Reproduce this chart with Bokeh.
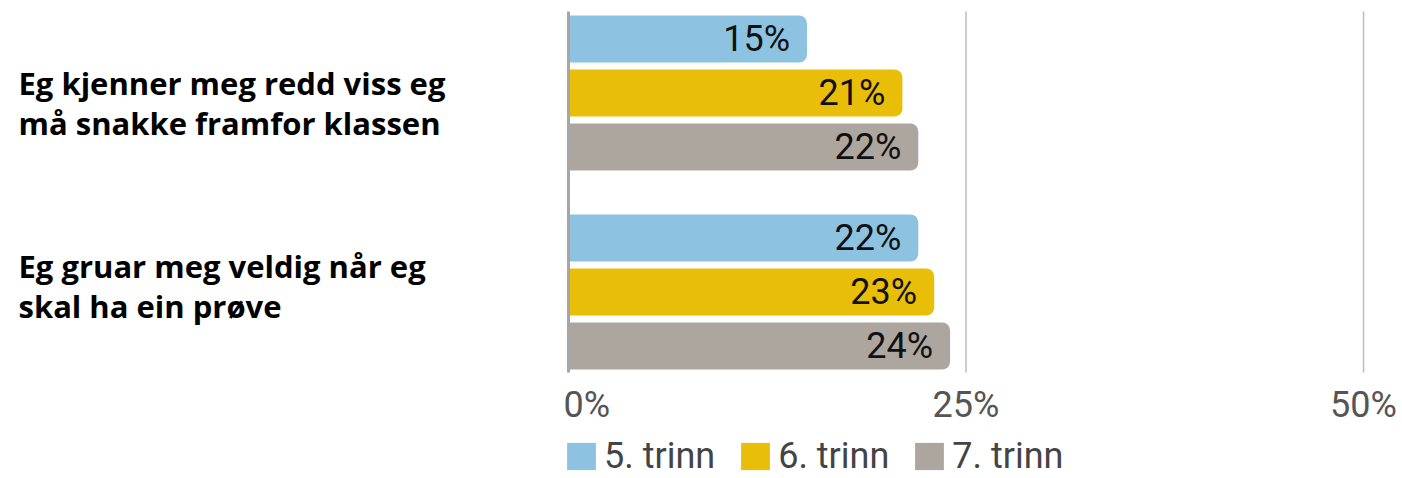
from bokeh.plotting import figure
from bokeh.models import Range1d, ColumnDataSource, Legend, LegendItem
from bokeh.core.properties import value
from bokeh.embed import file_html
from bokeh.resources import INLINE

# ---- data ----
questions = ["Eg kjenner meg redd viss eg\nmå snakke framfor klassen",
             "Eg gruar meg veldig når eg\nskal ha ein prøve"]
series = ["5. trinn", "6. trinn", "7. trinn"]
vals_5 = [15, 22]
vals_6 = [21, 23]
vals_7 = [22, 24]
ticks = [0, 25, 50]
tick_labels = ["0%", "25%", "50%"]

colors = ["#8DC3E0", "#E9BE08", "#ADA69F"]

# ---- layout ----
W, H = 1402, 478
U = 54.0                # px per bar slot
d0 = 38.5 / U           # first bar centre (slots from top)
gstep = 3.685           # group step (slots)
bar_h = 0.87
pxu = 15.9              # px per percent
X0 = -568 / pxu
X1 = X0 + W / pxu

p = figure(width=W, height=H, x_range=Range1d(X0, X1), y_range=Range1d(-H / U, 0),
           toolbar_location=None, output_backend="svg", min_border=0)
p.axis.visible = False
p.grid.visible = False
p.outline_line_color = None
p.background_fill_color = "white"

# grid lines
p.segment(x0=ticks[1:], x1=ticks[1:], y0=[-11 / U] * 2, y1=[-372 / U] * 2,
          line_color="#BDBDBD", line_width=1.5)
p.segment(x0=ticks[:1], x1=ticks[:1], y0=[-11 / U], y1=[-372 / U],
          line_color="#A6A6A6", line_width=3)

renderers = []
for s, (name, vals, col) in enumerate(zip(series, [vals_5, vals_6, vals_7], colors)):
    ys = [-(d0 + g * gstep + s) for g in range(len(questions))]
    src = ColumnDataSource(dict(y=ys, v=vals, t=[f"{v}%" for v in vals]))
    r = p.hbar(y="y", left=1.5 / pxu, right="v", height=bar_h, source=src,
               fill_color=col, line_color=None, border_radius=(0, 8, 8, 0))
    renderers.append(r)
    p.text(x="v", y="y", text="t", source=src, text_align="right",
           text_baseline="middle", x_offset=-17, text_font=value("Roboto"),
           text_font_size="36px", text_color="#111111")

# question labels
qy = [-(d0 + g * gstep + 1) for g in range(len(questions))]
qsrc = ColumnDataSource(dict(x=[X0] * len(questions), y=qy, t=questions, yo=[10, -6]))
p.text(x="x", y="y", text="t", source=qsrc, x_offset=18, y_offset="yo",
       text_align="left", text_baseline="middle", text_font=value("Open Sans"),
       text_font_style="bold", text_font_size="31px", text_color="#000000",
       text_line_height=0.95)

# tick labels
ty = -404.5 / U
p.text(x=ticks[:1], y=[ty], text=tick_labels[:1], text_align="left", x_offset=-5,
       text_baseline="middle", text_font=value("Roboto"), text_font_size="36px",
       text_color="#555555")
p.text(x=ticks[1:], y=[ty] * 2, text=tick_labels[1:], text_align="center",
       text_baseline="middle", text_font=value("Roboto"), text_font_size="36px",
       text_color="#555555")

legend = Legend(items=[LegendItem(label=n, renderers=[r]) for n, r in zip(series, renderers)],
                orientation="horizontal", location=(563, 1),
                glyph_width=36, glyph_height=34, label_standoff=5, spacing=22,
                padding=0, margin=0, border_line_color=None, background_fill_alpha=0,
                label_text_font="Roboto", label_text_font_size="36px",
                label_text_color="#444444")
p.add_layout(legend)

open("out.html", "w").write(file_html(p, INLINE))
